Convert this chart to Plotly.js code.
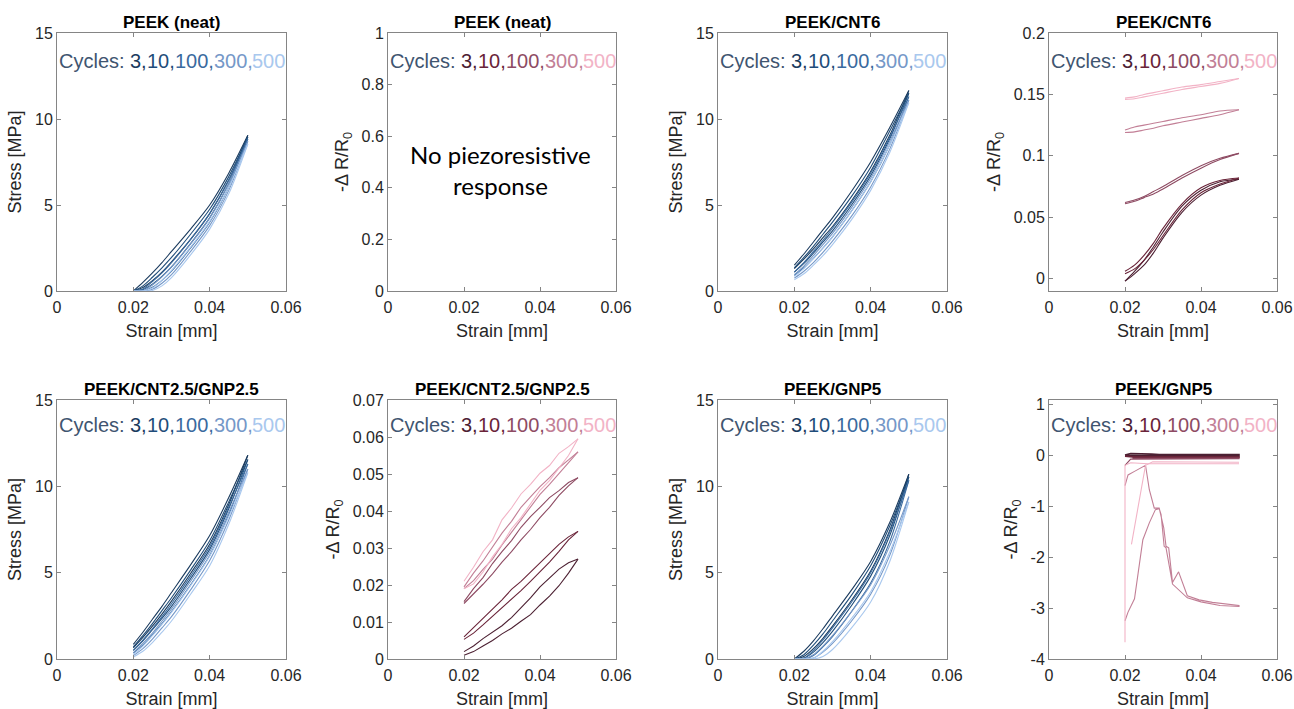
<!DOCTYPE html>
<html>
<head>
<meta charset="utf-8">
<script src="https://cdn.plot.ly/plotly-3.0.1.min.js"></script>
<style>
html,body{margin:0;padding:0;background:#ffffff;}
#chart{width:1294px;height:709px;}
</style>
</head>
<body>
<div id="chart"></div>
<script>
// ---------------- DATA ----------------
const CYCLES = ['3', '10', '100', '300', '500'];
const PANEL_TITLES = ['PEEK (neat)', 'PEEK (neat)', 'PEEK/CNT6', 'PEEK/CNT6',
                      'PEEK/CNT2.5/GNP2.5', 'PEEK/CNT2.5/GNP2.5', 'PEEK/GNP5', 'PEEK/GNP5'];
const X_TICKS = [0, 0.02, 0.04, 0.06];
const X_TICK_TEXT = ['0', '0.02', '0.04', '0.06'];
const STRESS_TICKS = [0, 5, 10, 15];
const STRESS_TICK_TEXT = ['0', '5', '10', '15'];
const NEAT_R_TICKS = [0, 0.2, 0.4, 0.6, 0.8, 1];
const NEAT_R_TICK_TEXT = ['0', '0.2', '0.4', '0.6', '0.8', '1'];
const CNT6_R_TICKS = [0, 0.05, 0.1, 0.15, 0.2];
const CNT6_R_TICK_TEXT = ['0', '0.05', '0.1', '0.15', '0.2'];
const HYB_R_TICKS = [0, 0.01, 0.02, 0.03, 0.04, 0.05, 0.06, 0.07];
const HYB_R_TICK_TEXT = ['0', '0.01', '0.02', '0.03', '0.04', '0.05', '0.06', '0.07'];
const GNP5_R_TICKS = [-4, -3, -2, -1, 0, 1];
const GNP5_R_TICK_TEXT = ['-4', '-3', '-2', '-1', '0', '1'];

// strain grids [mm]
const STRAIN_9 = [0.020, 0.0225, 0.025, 0.0275, 0.030, 0.035, 0.040, 0.045, 0.050];
const STRAIN_13 = [0.020, 0.0225, 0.025, 0.0275, 0.030, 0.0325, 0.035, 0.0375, 0.040, 0.0425, 0.045, 0.0475, 0.050];

// PEEK (neat) stress [MPa], per cycle (3,10,100,300,500)
const NEAT_STRESS_LOAD = [
  [0, 0.5, 1.05, 1.65, 2.3, 3.6, 5.0, 6.85, 9.05],
  [0, 0.3, 0.8, 1.35, 1.95, 3.3, 4.75, 6.65, 8.95],
  [0, 0.12, 0.55, 1.05, 1.65, 3.0, 4.5, 6.45, 8.85],
  [0, 0.02, 0.35, 0.82, 1.4, 2.75, 4.25, 6.25, 8.7],
  [0, 0, 0.18, 0.62, 1.2, 2.55, 4.05, 6.05, 8.55]
];
const NEAT_STRESS_UNLOAD = [
  [0, 0.2, 0.6, 1.1, 1.7, 3.0, 4.5, 6.45, 9.05],
  [0, 0.08, 0.4, 0.85, 1.4, 2.75, 4.25, 6.25, 8.95],
  [0, 0, 0.22, 0.62, 1.15, 2.5, 4.0, 6.05, 8.85],
  [0, 0, 0.1, 0.45, 0.95, 2.3, 3.8, 5.85, 8.7],
  [0, 0, 0.03, 0.3, 0.78, 2.1, 3.6, 5.65, 8.55]
];

// PEEK/CNT6 stress [MPa]
const CNT6_STRESS_LOAD = [
  [1.5, 2.15, 2.85, 3.55, 4.25, 5.8, 7.5, 9.5, 11.65],
  [1.35, 1.95, 2.6, 3.3, 4.0, 5.5, 7.2, 9.3, 11.5],
  [1.1, 1.65, 2.3, 2.95, 3.65, 5.15, 6.85, 8.95, 11.3],
  [0.95, 1.45, 2.05, 2.7, 3.35, 4.85, 6.55, 8.7, 11.1],
  [0.85, 1.3, 1.9, 2.5, 3.15, 4.65, 6.35, 8.5, 10.95]
];
const CNT6_STRESS_UNLOAD = [
  [1.3, 1.85, 2.45, 3.1, 3.75, 5.25, 6.95, 9.05, 11.65],
  [1.1, 1.6, 2.2, 2.85, 3.5, 5.0, 6.7, 8.85, 11.5],
  [0.9, 1.35, 1.9, 2.5, 3.15, 4.65, 6.35, 8.5, 11.3],
  [0.75, 1.15, 1.65, 2.25, 2.9, 4.35, 6.05, 8.25, 11.1],
  [0.65, 1.0, 1.5, 2.05, 2.7, 4.15, 5.85, 8.05, 10.95]
];

// PEEK/CNT2.5/GNP2.5 stress [MPa]
const HYB_STRESS_LOAD = [
  [0.85, 1.55, 2.3, 3.05, 3.85, 5.45, 7.15, 9.35, 11.8],
  [0.7, 1.35, 2.05, 2.8, 3.55, 5.15, 6.85, 9.1, 11.55],
  [0.5, 1.1, 1.75, 2.45, 3.2, 4.8, 6.5, 8.8, 11.3],
  [0.35, 0.9, 1.5, 2.2, 2.9, 4.5, 6.2, 8.5, 11.0],
  [0.25, 0.75, 1.35, 2.0, 2.7, 4.25, 5.95, 8.25, 10.8]
];
const HYB_STRESS_UNLOAD = [
  [0.65, 1.25, 1.9, 2.6, 3.35, 4.95, 6.65, 8.95, 11.8],
  [0.5, 1.05, 1.7, 2.35, 3.05, 4.65, 6.35, 8.7, 11.55],
  [0.35, 0.8, 1.4, 2.05, 2.75, 4.3, 6.0, 8.35, 11.3],
  [0.2, 0.6, 1.15, 1.8, 2.45, 4.0, 5.7, 8.05, 11.0],
  [0.12, 0.45, 0.95, 1.55, 2.2, 3.75, 5.4, 7.8, 10.8]
];

// PEEK/GNP5 stress [MPa]
const GNP5_STRESS_LOAD = [
  [0, 0.45, 1.05, 1.75, 2.5, 4.0, 5.65, 7.9, 10.7],
  [0, 0.25, 0.8, 1.45, 2.2, 3.7, 5.4, 7.7, 10.55],
  [0, 0.05, 0.5, 1.1, 1.8, 3.3, 5.0, 7.35, 10.35],
  [0, 0, 0.25, 0.75, 1.35, 2.75, 4.3, 6.55, 9.4],
  [0, 0, 0.05, 0.45, 1.0, 2.35, 3.9, 6.2, 9.1]
];
const GNP5_STRESS_UNLOAD = [
  [0, 0.15, 0.6, 1.2, 1.9, 3.4, 5.1, 7.45, 10.7],
  [0, 0.05, 0.4, 0.95, 1.6, 3.1, 4.8, 7.15, 10.55],
  [0, 0, 0.2, 0.7, 1.3, 2.75, 4.4, 6.8, 10.35],
  [0, 0, 0.05, 0.4, 0.9, 2.2, 3.75, 6.0, 9.4],
  [0, 0, 0, 0.15, 0.55, 1.8, 3.3, 5.65, 9.1]
];

// PEEK/CNT6  -dR/R0
const CNT6_RES_LOAD = [
  [-0.002, 0.006, 0.015, 0.026, 0.038, 0.059, 0.072, 0.079, 0.081],
  [0.006, 0.011, 0.019, 0.029, 0.041, 0.061, 0.074, 0.080, 0.082],
  [0.062, 0.064, 0.067, 0.071, 0.075, 0.084, 0.092, 0.098, 0.102],
  [0.121, 0.1235, 0.125, 0.1265, 0.128, 0.131, 0.1335, 0.1365, 0.1375],
  [0.147, 0.148, 0.150, 0.1515, 0.153, 0.156, 0.158, 0.1605, 0.163]
];
const CNT6_RES_UNLOAD = [
  [-0.002, 0.004, 0.011, 0.021, 0.033, 0.054, 0.068, 0.076, 0.081],
  [0.004, 0.008, 0.015, 0.024, 0.035, 0.056, 0.070, 0.077, 0.082],
  [0.061, 0.063, 0.066, 0.069, 0.073, 0.082, 0.090, 0.097, 0.102],
  [0.119, 0.1195, 0.121, 0.1225, 0.1245, 0.1275, 0.1305, 0.1335, 0.1375],
  [0.146, 0.1465, 0.148, 0.1495, 0.151, 0.154, 0.1565, 0.159, 0.163]
];

// PEEK/CNT2.5/GNP2.5  -dR/R0
const HYB_RES_LOAD = [
  [0.002, 0.0035, 0.0055, 0.0072, 0.009, 0.0112, 0.0138, 0.0165, 0.0195, 0.022, 0.0243, 0.026, 0.027],
  [0.006, 0.0085, 0.0112, 0.0135, 0.016, 0.0188, 0.021, 0.0235, 0.026, 0.0287, 0.031, 0.033, 0.0345],
  [0.0155, 0.019, 0.022, 0.0258, 0.029, 0.032, 0.0356, 0.0385, 0.041, 0.0436, 0.0455, 0.0477, 0.049],
  [0.0195, 0.0232, 0.0265, 0.0302, 0.034, 0.0372, 0.041, 0.0438, 0.0466, 0.049, 0.0517, 0.0538, 0.056],
  [0.021, 0.0248, 0.029, 0.0322, 0.0376, 0.0408, 0.0446, 0.0472, 0.0502, 0.0523, 0.0556, 0.0574, 0.0595]
];
const HYB_RES_UNLOAD = [
  [0.001, 0.002, 0.0035, 0.005, 0.0068, 0.0083, 0.0102, 0.012, 0.0146, 0.017, 0.0198, 0.0232, 0.027],
  [0.0053, 0.007, 0.0092, 0.0115, 0.0138, 0.0162, 0.0185, 0.021, 0.0236, 0.0262, 0.0291, 0.0322, 0.0345],
  [0.015, 0.0175, 0.0202, 0.023, 0.0262, 0.029, 0.0322, 0.035, 0.0382, 0.041, 0.0442, 0.0468, 0.049],
  [0.019, 0.0212, 0.0242, 0.027, 0.0308, 0.0342, 0.0375, 0.0412, 0.0445, 0.0472, 0.0502, 0.053, 0.056],
  [0.019, 0.0203, 0.0235, 0.0276, 0.031, 0.0352, 0.0382, 0.042, 0.0456, 0.0482, 0.0516, 0.055, 0.0595]
];

// PEEK/GNP5  -dR/R0  (irregular polylines, null = break)
const GNP5_RES_X = [
  [0.020, 0.0215, 0.027, 0.029, 0.050, 0.050, 0.020],
  [0.020, 0.022, 0.050, 0.050, 0.022],
  [0.020, 0.0215, 0.050, 0.050, 0.022],
  [0.020, 0.0208, 0.0225, 0.0238, 0.0254, 0.0264, 0.0277, 0.029, 0.0302, 0.0308, 0.0315, 0.0325, 0.0341, 0.0364, 0.0395, 0.043, 0.050,
   0.050, 0.045, 0.040, 0.0364, 0.0325, 0.0308, 0.0303, 0.0295, 0.029, 0.028, 0.0264, 0.0247, 0.0225, 0.0208, 0.020],
  [0.020, 0.020, 0.0215, 0.026, 0.050, null, 0.0217, 0.0238, 0.0254, 0.0273, 0.050]
];
const GNP5_RES_Y = [
  [0.0, 0.03, 0.02, 0.01, 0.01, -0.01, -0.01],
  [-0.02, -0.035, -0.035, -0.045, -0.05],
  [-0.2, -0.08, -0.07, -0.06, -0.065],
  [-0.6, -0.39, -0.32, -0.26, -0.2, -0.68, -1.04, -1.04, -1.43, -1.79, -1.82, -2.5, -2.29, -2.76, -2.84, -2.89, -2.95,
   -2.97, -2.95, -2.88, -2.8, -2.53, -1.82, -1.79, -1.17, -1.05, -1.07, -1.33, -1.66, -2.82, -3.08, -3.25],
  [-3.67, -0.2, -0.15, -0.17, -0.17, null, -1.75, -0.88, -0.2, -0.13, -0.14]
];

// ---------------- STYLE / LAYOUT ----------------
const W = 1294, H = 709;
const BLUE_SHADES = ['#1b3b5e', '#1f4d7a', '#3a6a9e', '#7598c8', '#a9c8ee'];
const PINK_SHADES = ['#4c2032', '#6a2439', '#8e4b63', '#c27f96', '#f2b3c6'];
const LABEL_BLUE = '#3f5570';
const FONT = 'Liberation Sans, Arial, Helvetica, sans-serif';
const AX_COLOR = '#858585';
const TXT_COLOR = '#262626';
const CYC_SIZE = 20;
const AXTITLE_SIZE = 18;

// pixel boxes [left, right, top, bottom]
const BOXES = [
  [57, 286, 33, 291], [388, 616, 33, 291], [718, 947, 33, 291], [1049, 1277, 33, 291],
  [57, 286, 400, 659], [388, 616, 400, 659], [718, 947, 400, 659], [1049, 1277, 400, 659]
];

// text measuring for the multi-coloured "Cycles:" label
const measureCtx = document.createElement('canvas').getContext('2d');
measureCtx.font = CYC_SIZE + 'px "Liberation Sans", Arial, sans-serif';
function textWidth(s) { return measureCtx.measureText(s).width; }

const layout = {
  width: W, height: H,
  margin: {l: 0, r: 0, t: 0, b: 0},
  paper_bgcolor: '#ffffff', plot_bgcolor: '#ffffff',
  showlegend: false,
  font: {family: FONT, color: TXT_COLOR, size: 16},
  annotations: []
};

const Y_SPECS = [
  {range: [0, 15], tv: STRESS_TICKS, tt: STRESS_TICK_TEXT, title: 'Stress [MPa]'},
  {range: [0, 1], tv: NEAT_R_TICKS, tt: NEAT_R_TICK_TEXT, title: '-\u0394 R/R<sub>0</sub>'},
  {range: [0, 15], tv: STRESS_TICKS, tt: STRESS_TICK_TEXT, title: 'Stress [MPa]'},
  {range: [-0.01, 0.2], tv: CNT6_R_TICKS, tt: CNT6_R_TICK_TEXT, title: '-\u0394 R/R<sub>0</sub>'},
  {range: [0, 15], tv: STRESS_TICKS, tt: STRESS_TICK_TEXT, title: 'Stress [MPa]'},
  {range: [0, 0.07], tv: HYB_R_TICKS, tt: HYB_R_TICK_TEXT, title: '-\u0394 R/R<sub>0</sub>'},
  {range: [0, 15], tv: STRESS_TICKS, tt: STRESS_TICK_TEXT, title: 'Stress [MPa]'},
  {range: [-4, 1.08], tv: GNP5_R_TICKS, tt: GNP5_R_TICK_TEXT, title: '-\u0394 R/R<sub>0</sub>'}
];

BOXES.forEach((b, i) => {
  const n = i + 1;
  const sfx = n === 1 ? '' : String(n);
  const common = {
    showline: true, mirror: 'ticks', linecolor: AX_COLOR, linewidth: 1,
    ticks: 'inside', ticklen: 4, tickwidth: 1, tickcolor: AX_COLOR,
    showgrid: false, zeroline: false, fixedrange: true,
    tickfont: {family: FONT, size: 16, color: TXT_COLOR}
  };
  layout['xaxis' + sfx] = Object.assign({}, common, {
    domain: [b[0] / W, b[1] / W],
    anchor: 'y' + sfx,
    range: [0, 0.06], tickmode: 'array', tickvals: X_TICKS, ticktext: X_TICK_TEXT,
    ticklabelstandoff: 2,
    title: {text: 'Strain [mm]', font: {family: FONT, size: AXTITLE_SIZE, color: TXT_COLOR}, standoff: 9}
  });
  const ys = Y_SPECS[i];
  layout['yaxis' + sfx] = Object.assign({}, common, {
    domain: [1 - b[3] / H, 1 - b[2] / H],
    anchor: 'x' + sfx,
    range: ys.range, tickmode: 'array', tickvals: ys.tv, ticktext: ys.tt,
    title: {text: ys.title, font: {family: FONT, size: AXTITLE_SIZE, color: TXT_COLOR}, standoff: 8}
  });
  // panel title
  layout.annotations.push({
    xref: 'x' + sfx + ' domain', yref: 'y' + sfx + ' domain',
    x: 0.5, y: 1, xanchor: 'center', yanchor: 'middle', yshift: 11,
    text: PANEL_TITLES[i], showarrow: false,
    font: {family: FONT, size: 17, color: '#000000', weight: 'bold'}
  });
  // cycles label: one annotation per coloured piece
  const shades = (i % 2 === 0) ? BLUE_SHADES : PINK_SHADES;
  const pieces = [{t: 'Cycles:', c: LABEL_BLUE, adv: 'Cycles: '}];
  CYCLES.forEach((c, k) => {
    const t = c + (k < CYCLES.length - 1 ? ',' : '');
    pieces.push({t: t, c: shades[k], adv: t});
  });
  let off = 0;
  pieces.forEach(p => {
    layout.annotations.push({
      xref: 'x' + sfx + ' domain', yref: 'y' + sfx + ' domain',
      x: 0, y: 1, xanchor: 'left', yanchor: 'middle',
      xshift: off, yshift: (i < 4 ? -28 : -25),
      text: p.t, showarrow: false,
      font: {family: FONT, size: CYC_SIZE, color: p.c}
    });
    off += textWidth(p.adv);
  });
});

layout.annotations.push({
  xref: 'x2', yref: 'y2', x: 0.0295, y: 0.47, xanchor: 'center', yanchor: 'middle',
  text: 'No piezoresistive<br>response', showarrow: false,
  font: {family: 'Lato, Open Sans, sans-serif', size: 24, color: '#000000'}
});

// ---------------- TRACES ----------------
const traces = [];
function addLoops(xs, loads, unloads, shades, axN, width, shape) {
  const sfx = axN === 1 ? '' : String(axN);
  for (let k = 0; k < loads.length; k++) {
    [loads[k], unloads[k]].forEach(arr => {
      traces.push({
        type: 'scatter', mode: 'lines', x: xs, y: arr, xaxis: 'x' + sfx, yaxis: 'y' + sfx,
        line: {color: shades[k], width: width, shape: shape, smoothing: 0.8},
        hoverinfo: 'skip', showlegend: false
      });
    });
  }
}
addLoops(STRAIN_9, NEAT_STRESS_LOAD, NEAT_STRESS_UNLOAD, BLUE_SHADES, 1, 1.1, 'spline');
addLoops(STRAIN_9, CNT6_STRESS_LOAD, CNT6_STRESS_UNLOAD, BLUE_SHADES, 3, 1.1, 'spline');
addLoops(STRAIN_9, CNT6_RES_LOAD, CNT6_RES_UNLOAD, PINK_SHADES, 4, 1.1, 'spline');
addLoops(STRAIN_9, HYB_STRESS_LOAD, HYB_STRESS_UNLOAD, BLUE_SHADES, 5, 1.1, 'spline');
addLoops(STRAIN_13, HYB_RES_LOAD, HYB_RES_UNLOAD, PINK_SHADES, 6, 1.1, 'linear');
addLoops(STRAIN_9, GNP5_STRESS_LOAD, GNP5_STRESS_UNLOAD, BLUE_SHADES, 7, 1.1, 'spline');
for (let k = 0; k < GNP5_RES_X.length; k++) {
  traces.push({
    type: 'scatter', mode: 'lines', x: GNP5_RES_X[k], y: GNP5_RES_Y[k], xaxis: 'x8', yaxis: 'y8',
    line: {color: PINK_SHADES[k], width: (k < 2 ? 1.6 : 1.1)}, connectgaps: false,
    hoverinfo: 'skip', showlegend: false
  });
}
// empty trace so panel 2 axes exist
traces.push({type: 'scatter', mode: 'lines', x: [], y: [], xaxis: 'x2', yaxis: 'y2', showlegend: false, hoverinfo: 'skip'});

Plotly.newPlot('chart', traces, layout, {displayModeBar: false, staticPlot: true});
</script>
</body>
</html>
